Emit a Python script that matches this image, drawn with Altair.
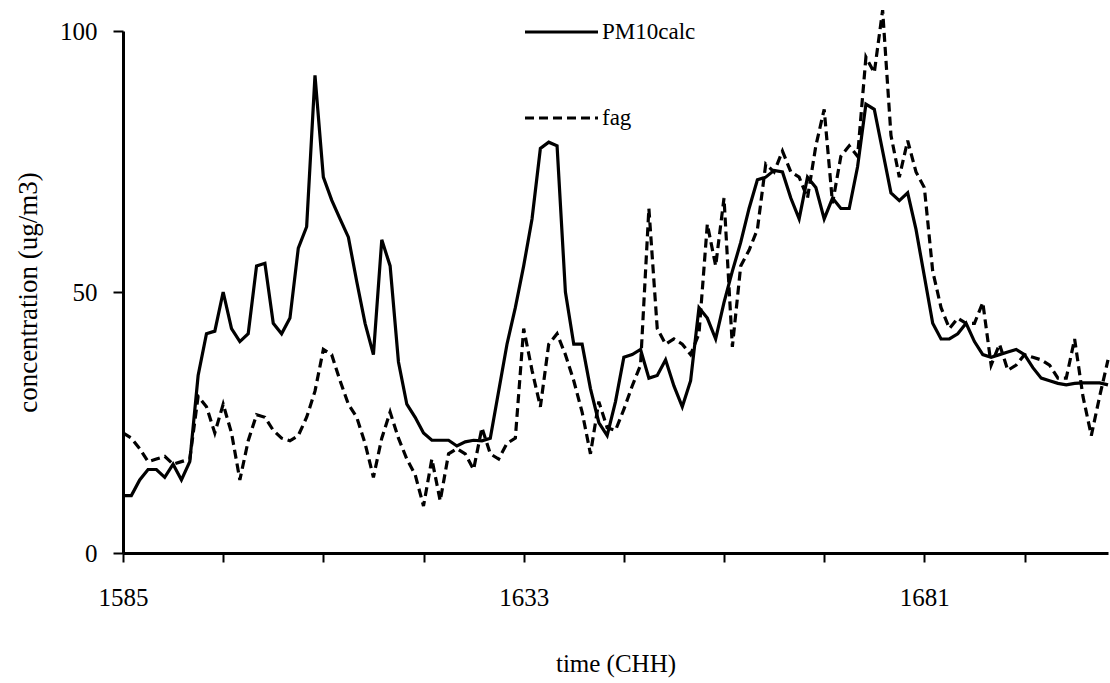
import altair as alt
import pandas as pd

years = list(range(1585, 1704))

pm10calc = [
    11, 11, 14, 16, 16, 14.5, 17, 14, 17.5, 34,
    42, 42.5, 50, 43, 40.5, 42, 55, 55.5, 44, 42,
    45, 58.4, 62.5, 91.5, 72, 67.6, 64, 60.5, 52, 44,
    38, 60, 55, 36.6, 28.5, 26, 23, 21.6, 21.6, 21.6,
    20.5, 21.3, 21.6, 21.5, 22, 31, 40, 47, 55, 64,
    77.5, 78.7, 78, 50, 40, 40, 31.5, 25, 22.5, 29,
    37.5, 38, 39, 33.5, 34, 37, 32, 28, 33, 47,
    45, 41, 48, 54, 59.5, 66, 71.5, 72, 73.3, 73,
    68, 64, 72, 70, 64, 68, 66, 66, 74, 86,
    85, 77, 69, 67.5, 69, 62, 53, 44, 41, 41,
    42, 44, 40.5, 38, 37.5, 38, 38.5, 39, 38, 35.5,
    33.5, 33, 32.5, 32.2, 32.5, 32.6, 32.6, 32.6, 32.2,
]

fag = [
    23, 22, 20, 17.5, 18, 18.5, 17, 17.5, 18, 30,
    28, 23, 28.5, 23, 14, 21.5, 26.5, 26, 23.5, 22,
    21.5, 22.5, 26, 31, 39, 38, 33, 28.5, 26, 21,
    14.5, 22, 27, 22, 18, 15, 9, 18, 10, 19,
    20, 19, 16, 24, 19, 18, 21, 22, 43, 35,
    28, 40, 42, 38, 33, 27, 19, 29, 24, 23.5,
    27.5, 32, 36, 66, 43, 40, 41, 40, 38, 42,
    63, 55, 68, 39.5, 55, 58, 62, 74.5, 73, 77,
    73, 72, 68, 78, 85, 67, 76, 78, 76, 95,
    92, 104, 80, 72, 79, 73, 70, 54, 47, 43,
    45, 44, 44, 48, 36, 40, 35, 36, 38, 37.5,
    37, 36, 33.5, 33.5, 41, 30, 22.5, 30, 37,
]

x_ticks = [1585, 1597, 1609, 1621, 1633, 1645, 1657, 1669, 1681, 1693]
y_ticks = [0, 50, 100]
series_names = ["PM10calc", "fag"]

df_pm = pd.DataFrame({"time": years, "value": pm10calc})
df_fag = pd.DataFrame({"time": years, "value": fag})

FONT = "Liberation Serif"
FS = 23

x_enc = alt.X(
    "time:Q",
    scale=alt.Scale(domain=[1585, 1703], nice=False, zero=False),
    axis=alt.Axis(
        title="time (CHH)",
        values=x_ticks,
        format="d",
        labelExpr="(datum.value - 1585) % 48 == 0 ? datum.label : ''",
        labelFlush=False,
        labelFontSize=25,
        labelPadding=23,
        titleFontSize=25,
        titlePadding=41,
        tickSize=9,
    ),
)
y_enc = alt.Y(
    "value:Q",
    scale=alt.Scale(domain=[0, 100], nice=False),
    axis=alt.Axis(
        title="concentration (ug/m3)",
        values=y_ticks,
        labelFlush=False,
        labelFontSize=25,
        labelPadding=16,
        titleFontSize=27,
        titlePadding=17,
        tickSize=10,
    ),
)

solid = alt.Chart(df_pm).mark_line(color="black", strokeWidth=3.2, clip=False).encode(
    x=x_enc, y=y_enc
)
dashed = alt.Chart(df_fag).mark_line(
    color="black", strokeWidth=3.2, strokeDash=[9, 5], clip=False
).encode(x=x_enc, y=y_enc)

leg1_df = pd.DataFrame({"label": [series_names[0]]})
leg2_df = pd.DataFrame({"label": [series_names[1]]})

leg1_line = alt.Chart(leg1_df).mark_rule(color="black", strokeWidth=3.2).encode(
    x=alt.value(402), x2=alt.value(475), y=alt.value(1)
)
leg1_text = alt.Chart(leg1_df).mark_text(
    align="left", baseline="middle", font=FONT, fontSize=FS, color="black"
).encode(x=alt.value(479), y=alt.value(1), text="label:N")
leg2_line = alt.Chart(leg2_df).mark_rule(
    color="black", strokeWidth=3.2, strokeDash=[9, 5]
).encode(x=alt.value(402), x2=alt.value(475), y=alt.value(87))
leg2_text = alt.Chart(leg2_df).mark_text(
    align="left", baseline="middle", font=FONT, fontSize=FS, color="black"
).encode(x=alt.value(479), y=alt.value(87), text="label:N")

chart = (
    alt.layer(dashed, solid, leg1_line, leg1_text, leg2_line, leg2_text)
    .properties(
        width=985,
        height=522,
        background="white",
        autosize=alt.AutoSizeParams(type="none"),
        padding={"left": 123, "top": 31, "right": 2, "bottom": 130},
    )
    .configure_view(stroke=None)
    .configure_axis(
        grid=False,
        domainColor="black",
        domainWidth=3,
        tickColor="black",
        tickWidth=2,
        labelFont=FONT,
        labelColor="black",
        titleFont=FONT,
        titleFontWeight="normal",
        titleColor="black",
    )
)

chart.save("out.html", embed_options={"renderer": "svg", "actions": False})
